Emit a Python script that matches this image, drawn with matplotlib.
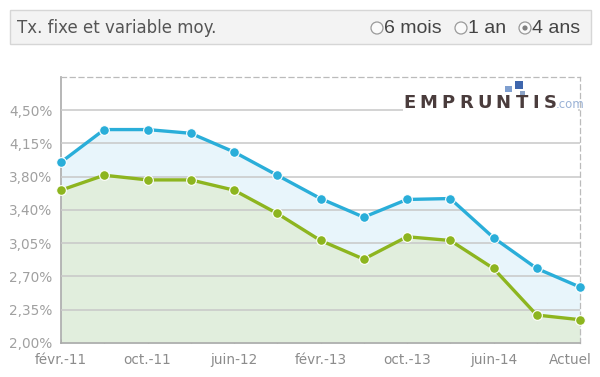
import matplotlib
matplotlib.use("Agg")
import matplotlib.pyplot as plt
from matplotlib.patches import Circle, Rectangle
from matplotlib.transforms import Bbox, ScaledTranslation
from matplotlib.textpath import TextPath
from matplotlib.font_manager import FontProperties

periods = ["févr.-11", "juin-11", "oct.-11", "févr.-12", "juin-12", "oct.-12",
           "févr.-13", "juin-13", "oct.-13", "févr.-14", "juin-14", "oct.-14", "Actuel"]
taux_fixe = [3.94, 4.29, 4.29, 4.25, 4.05, 3.80, 3.55, 3.35, 3.54, 3.55, 3.13, 2.80, 2.60]
taux_variable = [3.64, 3.80, 3.75, 3.75, 3.64, 3.39, 3.10, 2.90, 3.14, 3.10, 2.80, 2.30, 2.25]
ytick_vals = [2.0 + i * 2.5 / 7 for i in range(8)]
ytick_labels = ["2,00%", "2,35%", "2,70%", "3,05%", "3,40%", "3,80%", "4,15%", "4,50%"]
title = "Tx. fixe et variable moy."
radio_labels = ["6 mois", "1 an", "4 ans"]
logo_word = "EMPRUNTIS"
logo_suffix = ".com"

W, H = 600, 377
fig = plt.figure(figsize=(6, 3.77), dpi=100)
fig.patch.set_facecolor("white")

# Overlay axes in pixel coordinates (y downward)
hdr = fig.add_axes([0, 0, 1, 1], zorder=3)
hdr.set_xlim(0, W)
hdr.set_ylim(H, 0)
hdr.axis("off")
hdr.patch.set_alpha(0)

# Header bar
hdr.add_patch(Rectangle((10, 10), 581, 34, facecolor="#f3f3f3", edgecolor="#d6d6d6", lw=1))
hdr.text(17, 28, title, fontsize=12, color="#555555", va="center", ha="left",
         family="DejaVu Sans")
rx = [377, 461, 525]
for i, (x, lab) in enumerate(zip(rx, radio_labels)):
    hdr.add_patch(Circle((x, 28), 6, facecolor="#fafafa", edgecolor="#9a9a9a", lw=0.9))
    if i == 2:
        hdr.add_patch(Circle((x, 28), 2.6, facecolor="#808080", edgecolor="none"))
    t = hdr.text(x + 7.5, 28.5, lab, fontsize=14, color="#444444", va="center", ha="left",
                 family="Liberation Sans")
    if i == 0:
        t.set_clip_box(Bbox.from_extents(0, 0, 441, H))
        t.set_clip_on(True)

# Main chart
left, right, top, bottom = 61, 580, 77, 343
ax = fig.add_axes([left / W, 1 - bottom / H, (right - left) / W, (bottom - top) / H], zorder=1)
ax.set_facecolor("none")
x = list(range(len(periods)))
step = 2.5 / 7
ymin = 2.0
ymax = 2.0 + (bottom - top) * step / ((bottom - 110) / 7)

ax.fill_between(x, taux_fixe, ymin, color="#e8f5fb", zorder=1, lw=0)
ax.fill_between(x, taux_variable, ymin, color="#e1eedd", zorder=2, lw=0)
for yv in ytick_vals[1:]:
    ax.axhline(yv, color="#c8c8c8", lw=1.1, zorder=3)

ax.plot(x, taux_fixe, color="#2aaed9", lw=2.4, marker="o", ms=7,
        markerfacecolor="#2aaed9", markeredgecolor="white", markeredgewidth=0.8, zorder=5,
        clip_on=False)
ax.plot(x, taux_variable, color="#8db51f", lw=2.4, marker="o", ms=7,
        markerfacecolor="#8db51f", markeredgecolor="white", markeredgewidth=0.8, zorder=5,
        clip_on=False)

ax.set_xlim(0, len(periods) - 1)
ax.set_ylim(ymin, ymax)
ax.set_yticks(ytick_vals)
ax.set_yticklabels(ytick_labels)
ax.set_xticks(x)
ax.set_xticklabels([p if i % 2 == 0 else "" for i, p in enumerate(periods)])
ax.tick_params(axis="y", length=0, pad=6, labelsize=9.8, labelcolor="#a0a0a0")
ax.tick_params(axis="x", direction="in", length=3, color="#999999", pad=7,
               labelsize=9.8, labelcolor="#8c8c8c")
for lab in ax.get_yticklabels() + ax.get_xticklabels():
    lab.set_family("DejaVu Sans")
last = ax.xaxis.get_major_ticks()[-1].label1
last.set_transform(last.get_transform() + ScaledTranslation(-0.10, 0, fig.dpi_scale_trans))

ax.spines["left"].set_color("#aaaaaa")
ax.spines["left"].set_linewidth(1.2)
ax.spines["bottom"].set_color("#aaaaaa")
ax.spines["bottom"].set_linewidth(1.2)
for s in ("top", "right"):
    ax.spines[s].set_color("#bbbbbb")
    ax.spines[s].set_linestyle((0, (4, 3)))
    ax.spines[s].set_linewidth(0.9)

# Logo (white backing interrupts the top grid line)
hdr.add_patch(Rectangle((403, 95), 175, 17, facecolor="white", edgecolor="none", zorder=4))
fs_pt = 13
fs_px = fs_pt * 100 / 72
fp = FontProperties(family="DejaVu Sans", weight="bold")
widths = [TextPath((0, 0), ch, size=fs_px, prop=fp).get_extents().width for ch in logo_word]
x0, x1 = 405, 555
gap = (x1 - x0 - sum(widths)) / (len(logo_word) - 1)
cx = x0
for ch, w in zip(logo_word, widths):
    hdr.text(cx + w / 2, 103, ch, fontsize=fs_pt, fontweight="bold",
             color="#4a3c3c", ha="center", va="center", family="DejaVu Sans", zorder=5)
    cx += w + gap
hdr.text(556, 105, logo_suffix, fontsize=8.5, color="#9ab2d6", ha="left", va="center",
         family="DejaVu Sans", zorder=5)
hdr.add_patch(Rectangle((505, 86), 7, 6, facecolor="#7f9fcf", edgecolor="none", zorder=5))
hdr.add_patch(Rectangle((515, 81), 8, 8, facecolor="#3e66ad", edgecolor="none", zorder=5))
hdr.add_patch(Rectangle((520, 91), 5, 4, facecolor="#8ca3c6", edgecolor="none", zorder=5))

fig.savefig("out.png", dpi=100, facecolor="white")
